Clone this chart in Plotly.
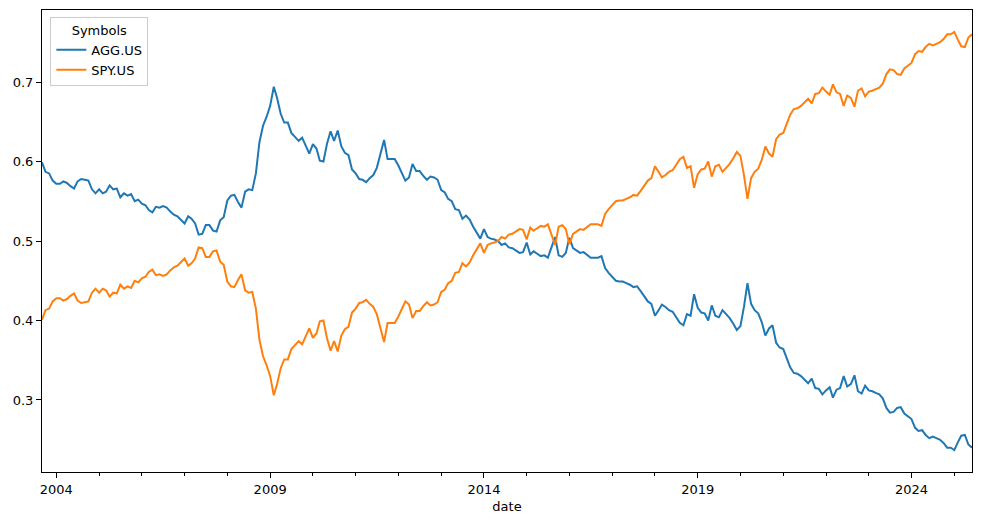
import pandas as pd
import plotly.graph_objects as go

start_month = "2003-09-01"

agg_us = [
0.599,0.587,0.585,0.576,0.572,0.572,0.575,0.573,0.569,0.566,
0.575,0.578,0.577,0.576,0.565,0.560,0.565,0.560,0.562,0.570,
0.565,0.566,0.555,0.560,0.557,0.559,0.550,0.552,0.547,0.545,
0.539,0.536,0.543,0.542,0.544,0.542,0.537,0.533,0.531,0.527,
0.522,0.531,0.528,0.522,0.508,0.509,0.520,0.520,0.513,0.512,
0.526,0.530,0.551,0.557,0.558,0.549,0.542,0.562,0.565,0.564,
0.585,0.624,0.645,0.656,0.670,0.694,0.680,0.660,0.649,0.649,
0.636,0.631,0.626,0.630,0.619,0.610,0.622,0.616,0.601,0.600,
0.622,0.638,0.626,0.639,0.619,0.611,0.608,0.590,0.585,0.578,
0.577,0.574,0.579,0.583,0.592,0.608,0.627,0.603,0.603,0.603,
0.595,0.585,0.576,0.580,0.597,0.588,0.588,0.582,0.577,0.581,
0.580,0.577,0.564,0.561,0.553,0.550,0.540,0.539,0.528,0.532,
0.527,0.518,0.510,0.503,0.515,0.505,0.503,0.502,0.500,0.495,
0.497,0.492,0.491,0.488,0.485,0.486,0.498,0.483,0.487,0.484,
0.481,0.482,0.479,0.492,0.505,0.482,0.480,0.485,0.504,0.491,
0.488,0.485,0.486,0.483,0.479,0.479,0.479,0.481,0.466,0.460,
0.455,0.450,0.449,0.449,0.447,0.445,0.442,0.443,0.437,0.431,
0.424,0.421,0.406,0.413,0.420,0.417,0.413,0.411,0.404,0.397,
0.394,0.408,0.406,0.433,0.416,0.410,0.409,0.400,0.419,0.406,
0.404,0.413,0.408,0.403,0.396,0.388,0.393,0.418,0.447,0.421,
0.413,0.409,0.398,0.381,0.390,0.394,0.372,0.366,0.364,0.353,
0.341,0.334,0.333,0.330,0.326,0.321,0.327,0.315,0.314,0.307,
0.312,0.316,0.303,0.313,0.315,0.330,0.317,0.320,0.331,0.311,
0.308,0.318,0.312,0.311,0.309,0.307,0.302,0.290,0.284,0.285,
0.290,0.291,0.283,0.280,0.276,0.265,0.261,0.262,0.256,0.252,
0.254,0.252,0.250,0.246,0.240,0.240,0.237,0.247,0.255,0.256,
0.244,0.240,
]

spy_us = [
0.401,0.413,0.415,0.424,0.428,0.428,0.425,0.427,0.431,0.434,
0.425,0.422,0.423,0.424,0.435,0.440,0.435,0.440,0.438,0.430,
0.435,0.434,0.445,0.440,0.443,0.441,0.450,0.448,0.453,0.455,
0.461,0.464,0.457,0.458,0.456,0.458,0.463,0.467,0.469,0.473,
0.478,0.469,0.472,0.478,0.492,0.491,0.480,0.480,0.487,0.488,
0.474,0.470,0.449,0.443,0.442,0.451,0.458,0.438,0.435,0.436,
0.415,0.376,0.355,0.344,0.330,0.306,0.320,0.340,0.351,0.351,
0.364,0.369,0.374,0.370,0.381,0.390,0.378,0.384,0.399,0.400,
0.378,0.362,0.374,0.361,0.381,0.389,0.392,0.410,0.415,0.422,
0.423,0.426,0.421,0.417,0.408,0.392,0.373,0.397,0.397,0.397,
0.405,0.415,0.424,0.420,0.403,0.412,0.412,0.418,0.423,0.419,
0.420,0.423,0.436,0.439,0.447,0.450,0.460,0.461,0.472,0.468,
0.473,0.482,0.490,0.497,0.485,0.495,0.497,0.498,0.500,0.505,
0.503,0.508,0.509,0.512,0.515,0.514,0.502,0.517,0.513,0.516,
0.519,0.518,0.521,0.508,0.495,0.518,0.520,0.515,0.496,0.509,
0.512,0.515,0.514,0.517,0.521,0.521,0.521,0.519,0.534,0.540,
0.545,0.550,0.551,0.551,0.553,0.555,0.558,0.557,0.563,0.569,
0.576,0.579,0.594,0.587,0.580,0.583,0.587,0.589,0.596,0.603,
0.606,0.592,0.594,0.567,0.584,0.590,0.591,0.600,0.581,0.594,
0.596,0.587,0.592,0.597,0.604,0.612,0.607,0.582,0.553,0.579,
0.587,0.591,0.602,0.619,0.610,0.606,0.628,0.634,0.636,0.647,
0.659,0.666,0.667,0.670,0.674,0.679,0.673,0.685,0.686,0.693,
0.688,0.684,0.697,0.687,0.685,0.670,0.683,0.680,0.669,0.689,
0.692,0.682,0.688,0.689,0.691,0.693,0.698,0.710,0.716,0.715,
0.710,0.709,0.717,0.720,0.724,0.735,0.739,0.738,0.744,0.748,
0.746,0.748,0.750,0.754,0.760,0.760,0.763,0.753,0.745,0.744,
0.756,0.760,
]

y_ticks = [0.3, 0.4, 0.5, 0.6, 0.7]
x_tick_years = ["2004", "2009", "2014", "2019", "2024"]

dates = pd.date_range(start_month, periods=len(agg_us), freq="MS")
date_str = [d.strftime("%Y-%m-%d") for d in dates]

fig = go.Figure()
fig.add_trace(go.Scatter(x=date_str, y=agg_us, mode="lines", name="AGG.US",
                         line=dict(color="#1f77b4", width=2)))
fig.add_trace(go.Scatter(x=date_str, y=spy_us, mode="lines", name="SPY.US",
                         line=dict(color="#ff7f0e", width=2)))

font_family = "DejaVu Sans, sans-serif"
fig.update_layout(
    width=981, height=525,
    margin=dict(l=42, r=9, t=10, b=53, autoexpand=False),
    paper_bgcolor="white", plot_bgcolor="white",
    font=dict(family=font_family, size=13, color="black"),
    showlegend=True,
    legend=dict(
        title=dict(text="Symbols", side="top center", font=dict(size=13)),
        x=0.009, y=0.985, xanchor="left", yanchor="top",
        bgcolor="rgba(255,255,255,0.8)", bordercolor="#cccccc", borderwidth=1,
        font=dict(size=13), itemwidth=30, tracegroupgap=0,
    ),
    xaxis=dict(
        type="date",
        range=[date_str[0], date_str[-1]],
        automargin=False,
        tickvals=[y + "-01-01" for y in x_tick_years],
        ticktext=x_tick_years,
        ticks="outside", ticklen=5, tickwidth=1, tickcolor="black",
        showline=True, linecolor="black", linewidth=1, mirror=True,
        showgrid=False, zeroline=False,
        minor=dict(dtick="M12", tick0="2004-01-01", ticks="outside", ticklen=3,
                   tickwidth=1, tickcolor="black", showgrid=False),
        title=dict(text="date", standoff=6, font=dict(size=13)),
    ),
    yaxis=dict(
        range=[0.2094, 0.7906],
        automargin=False,
        tickvals=y_ticks, tickformat=".1f",
        ticks="outside", ticklen=5, tickwidth=1, tickcolor="black",
        showline=True, linecolor="black", linewidth=1, mirror=True,
        showgrid=False, zeroline=False,
    ),
)

fig.write_html("out.html",
               config={"displayModeBar": False},
               post_script="document.body.style.margin='0px';document.body.style.overflow='hidden';")
